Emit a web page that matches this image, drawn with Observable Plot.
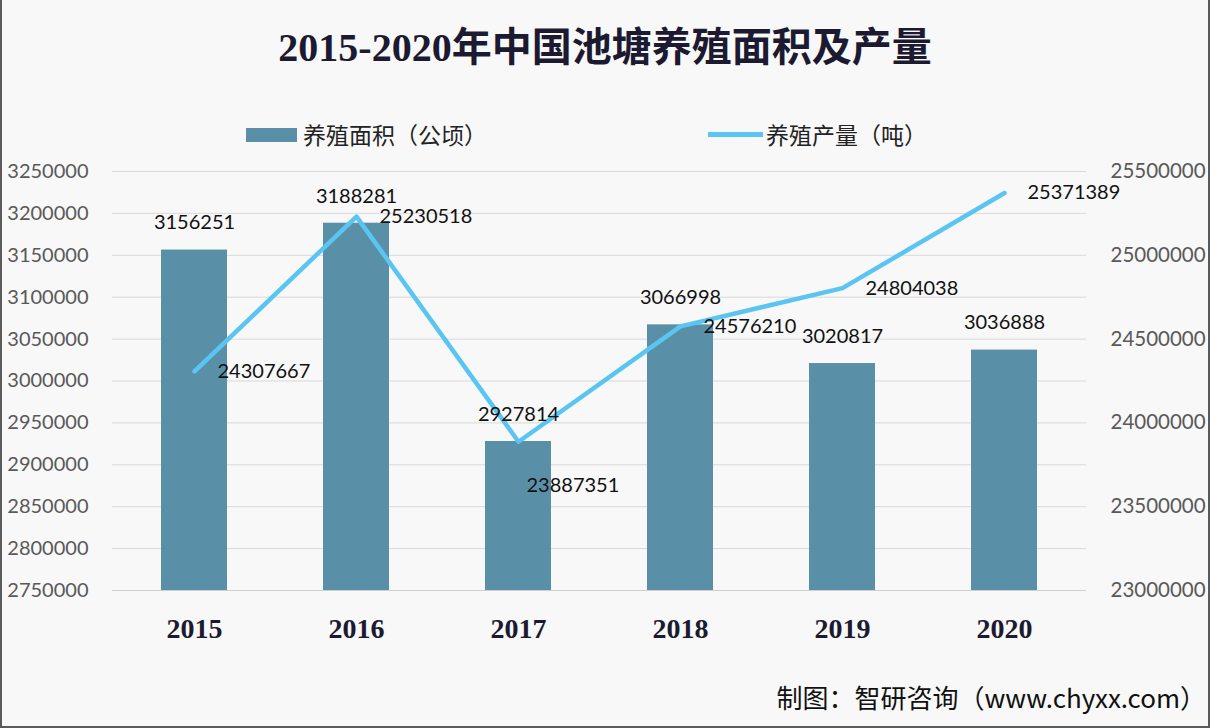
<!DOCTYPE html>
<html>
<head>
<meta charset="utf-8">
<script src="https://cdn.jsdelivr.net/npm/d3@7"></script>
<script src="https://cdn.jsdelivr.net/npm/@observablehq/plot@0.6"></script>
<style>
  html, body { margin: 0; padding: 0; }
  #wrap {
    position: relative; width: 1210px; height: 728px; overflow: hidden;
    background: #f7f8f7; box-sizing: border-box;
    border-left: 2px solid #5a5a5a; border-right: 2px solid #5a5a5a; border-bottom: 2px solid #5a5a5a;
  }
  #title {
    position: absolute; left: 0; width: 1206px; top: 24px; text-align: center;
    font-family: "Liberation Serif", "Noto Sans CJK SC", serif; font-weight: bold;
    font-size: 40px; line-height: 48px; color: #1c1a30;
  }
  .leg { position: absolute; top: 118px; font-family: "Noto Sans CJK SC", sans-serif; font-size: 23px; line-height: 32px; color: #222; }
  .sw1 { position: absolute; left: 244px; top: 128px; width: 51px; height: 14px; background: #5a8fa8; }
  .sw2 { position: absolute; left: 706px; top: 132px; width: 55px; height: 5px; background: #5bc5f2; }
  #chart { position: absolute; left: 0; top: 140px; }
  #caption {
    position: absolute; right: 2px; top: 679px;
    font-family: "Noto Sans CJK SC", sans-serif; font-size: 26px; line-height: 36px; color: #111;
  }
</style>
</head>
<body>
<div id="wrap">
  <div id="title">2015-2020年中国池塘养殖面积及产量</div>
  <div class="sw1"></div>
  <div class="leg" style="left:301px">养殖面积（公顷）</div>
  <div class="sw2"></div>
  <div class="leg" style="left:764px">养殖产量（吨）</div>
  <div id="chart"></div>
  <div id="caption">制图：智研咨询（www.chyxx.com）</div>
</div>
<script>
const years = ["2015", "2016", "2017", "2018", "2019", "2020"];
const areaHa = [3156251, 3188281, 2927814, 3066998, 3020817, 3036888];
const outputTon = [24307667, 25230518, 23887351, 24576210, 24804038, 25371389];
const leftTicks = [2750000, 2800000, 2850000, 2900000, 2950000, 3000000, 3050000, 3100000, 3150000, 3200000, 3250000];
const rightTicks = [23000000, 23500000, 24000000, 24500000, 25000000, 25500000];

const leftMin = 2750000, leftMax = 3250000;
const rightMin = 23000000, rightMax = 25500000;
const toLeft = v => leftMin + (v - rightMin) * (leftMax - leftMin) / (rightMax - rightMin);
const toRight = v => rightMin + (v - leftMin) * (rightMax - rightMin) / (leftMax - leftMin);

const data = years.map((y, i) => ({ year: y, area: areaHa[i], output: outputTon[i], outLeft: toLeft(outputTon[i]) }));

const numFont = "Lato, 'Open Sans', sans-serif";

const chart = Plot.plot({
  width: 1206,
  height: 520,
  marginTop: 31,
  marginBottom: 70,
  marginLeft: 110,
  marginRight: 122,
  style: { background: "transparent", overflow: "visible" },
  x: { domain: years, paddingInner: 0.59, paddingOuter: 0.295, label: null },
  y: { domain: [leftMin, leftMax], label: null },
  marks: [
    Plot.gridY(leftTicks, { stroke: "#d9d9d9", strokeOpacity: 1, strokeWidth: 1 }),
    Plot.barY(data, { x: "year", y1: leftMin, y2: "area", fill: "#5a8fa8" }),
    Plot.ruleY([leftMin], { stroke: "#cfcfcf", strokeWidth: 1.2 }),
    Plot.lineY(data, { x: "year", y: "outLeft", stroke: "#5bc5f2", strokeWidth: 4.5, strokeLinejoin: "round", strokeLinecap: "round" }),
    Plot.text(data, { x: "year", y: "area", text: d => String(d.area), dy: -27, fontSize: 20, fontFamily: numFont, fill: "#111" }),
    Plot.text(data.filter(d => d.year !== "2017"), { x: "year", y: "outLeft", text: d => String(d.output), dx: 23, textAnchor: "start", fontSize: 20, fontFamily: numFont, fill: "#111" }),
    Plot.text(data.filter(d => d.year === "2017"), { x: "year", y: "outLeft", text: d => String(d.output), dx: 8, dy: 44, textAnchor: "start", fontSize: 20, fontFamily: numFont, fill: "#111" }),
    Plot.axisX({ tickSize: 0, tickPadding: 28, fontSize: 28, fontWeight: "bold", fontFamily: "'Liberation Serif', serif", fill: "#1c1a30", label: null }),
    Plot.axisY(leftTicks, { anchor: "left", tickSize: 0, tickPadding: 24, fontSize: 20, fontFamily: numFont, fill: "#595959", tickFormat: d => String(d), label: null }),
    Plot.axisY(rightTicks.map(toLeft), { anchor: "right", tickSize: 0, tickPadding: 24, fontSize: 20.5, fontFamily: numFont, fill: "#595959", tickFormat: d => String(Math.round(toRight(d))), label: null })
  ]
});
document.getElementById("chart").appendChild(chart);
</script>
</body>
</html>
